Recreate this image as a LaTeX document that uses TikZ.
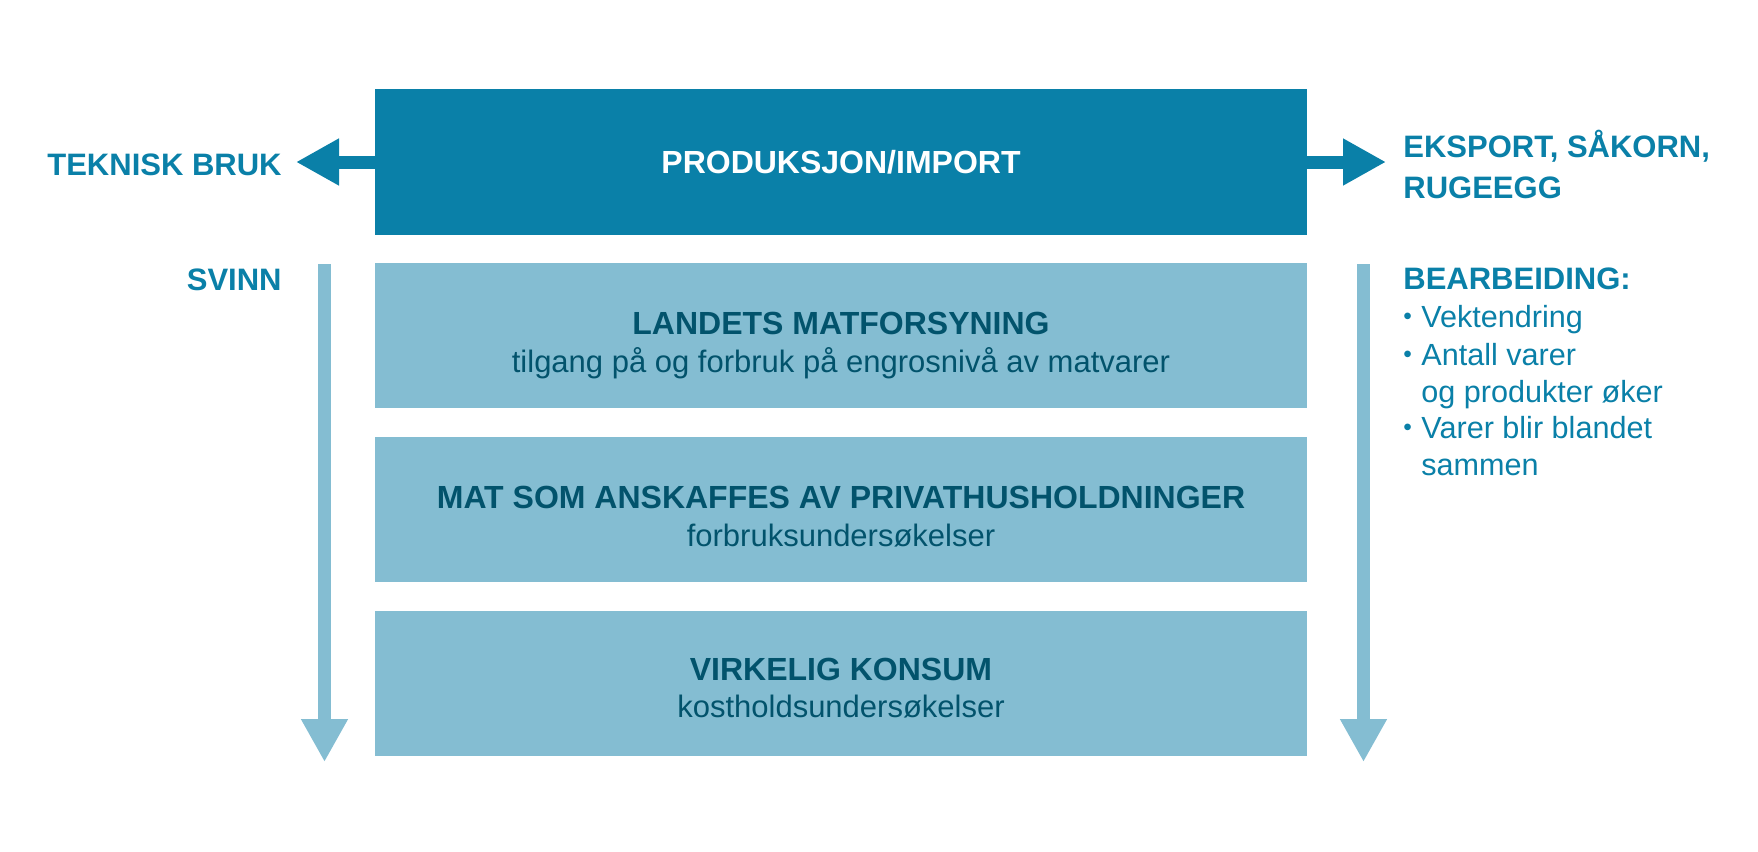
\documentclass[tikz,border=0pt]{standalone}
\usepackage{fontspec}
\setmainfont{Liberation Sans}
\usetikzlibrary{arrows.meta}

\definecolor{hovedblaa}{HTML}{0A80A8}
\definecolor{lysblaa}{HTML}{84BDD2}
\definecolor{morkblaa}{HTML}{02536C}

\tikzset{
  boks/.style={rectangle, inner sep=0pt, minimum width=466pt, minimum height=72.5pt},
  tittel/.style={font=\bfseries\fontsize{16}{19}\selectfont, text=morkblaa, inner sep=0pt},
  undertekst/.style={font=\fontsize{15.5}{18}\selectfont, text=morkblaa, inner sep=0pt},
  etikett/.style={font=\bfseries\fontsize{15.5}{19}\selectfont, text=hovedblaa, inner sep=0pt},
  punkt/.style={font=\fontsize{15.3}{18}\selectfont, text=hovedblaa, inner sep=0pt},
  pil/.style={line width=6.5pt, -{Triangle[length=21.5pt,width=22pt]}},
}
\newcommand{\pkt}{\makebox[9pt][l]{\raisebox{0.15ex}{\scalebox{0.8}{\textbullet}}}}

\begin{document}
\begin{tikzpicture}[x=0.5pt, y=-0.5pt]
\useasboundingbox (0,0) rectangle (1758,852);

% boksene
\node (prod) [boks, fill=hovedblaa, minimum height=73pt] at (841,162) {};
\node (landets) [boks, fill=lysblaa] at (841,335.5) {};
\node (mat) [boks, fill=lysblaa] at (841,509.5) {};
\node (konsum) [boks, fill=lysblaa] at (841,683.5) {};

\node (prodtekst) [etikett, text=white, font=\bfseries\fontsize{16}{19}\selectfont, anchor=base]
  at ([yshift=-5.5pt]prod.center) {PRODUKSJON/IMPORT};

\node (landetstittel) [tittel, anchor=base] at ([yshift=0.5pt]landets.center) {LANDETS MATFORSYNING};
\node (landetsunder) [undertekst, anchor=base] at ([yshift=-18.75pt]landetstittel.base)
  {tilgang på og forbruk på engrosnivå av matvarer};
\node (mattittel) [tittel, anchor=base] at ([yshift=0.5pt]mat.center) {MAT SOM ANSKAFFES AV PRIVATHUSHOLDNINGER};
\node (matunder) [undertekst, anchor=base] at ([yshift=-18.75pt]mattittel.base) {forbruksundersøkelser};
\node (konsumtittel) [tittel, anchor=base] at ([yshift=1.5pt]konsum.center) {VIRKELIG KONSUM};
\node (konsumunder) [undertekst, anchor=base] at ([yshift=-18.25pt]konsumtittel.base) {kostholdsundersøkelser};

% piler ut til sidene
\coordinate (tekniskspiss) at (296,162);
\coordinate (eksportspiss) at (1386,162);
\draw[pil, hovedblaa] (prod.west) -- (tekniskspiss);
\draw[pil, hovedblaa] (prod.east) -- (eksportspiss);

% piler nedover
\coordinate (svinntopp) at (324.5,264);
\coordinate (svinnbunn) at (324.5,762);
\coordinate (bearbtopp) at (1363.5,264);
\coordinate (bearbbunn) at (1363.5,762);
\draw[pil, lysblaa] (svinntopp) -- (svinnbunn);
\draw[pil, lysblaa] (bearbtopp) -- (bearbbunn);

% tekst utenfor
\node (teknisk) [etikett, anchor=base east] at (282,175) {TEKNISK BRUK};
\node (svinn) [etikett, anchor=base east] at (282,290) {SVINN};
\node (eksport) [etikett, anchor=base west] at (1403,157) {EKSPORT, SÅKORN,};
\node (rugeegg) [etikett, anchor=base west] at (1403,198) {RUGEEGG};
\node (bearb) [etikett, anchor=base west] at (1403,289) {BEARBEIDING:};

\foreach \yy/\linje [count=\i] in {327/\pkt Vektendring, 365/\pkt Antall varer,
    402/\hspace{9pt}og produkter øker, 438/\pkt Varer blir blandet, 475/\hspace{9pt}sammen}
  \node (punkt\i) [punkt, anchor=base west] at (1403,\yy) {\linje};

\end{tikzpicture}
\end{document}
